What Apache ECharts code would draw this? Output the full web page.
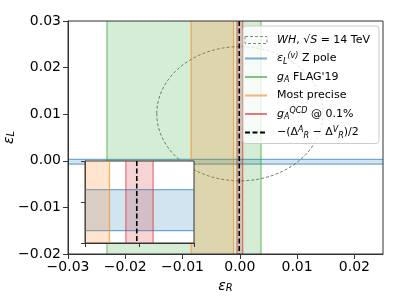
<!DOCTYPE html>
<html><head><meta charset="utf-8">
<script src="https://cdn.jsdelivr.net/npm/echarts@6/dist/echarts.min.js"></script>
<style>html,body{margin:0;padding:0;background:#fff}#c{width:399px;height:299px}</style>
</head><body><div id="c"></div>
<script>
// ---- data ----
const xTicks = [-0.03, -0.02, -0.01, 0.0, 0.01, 0.02];
const yTicks = [-0.02, -0.01, 0.0, 0.01, 0.02, 0.03];
const xRange = [-0.03, 0.025];
const yRange = [-0.02, 0.03];
const insetXRange = [-0.002, 0.002];
const insetYRange = [-0.001, 0.001];
const insetXTicks = [-0.002, 0.0, 0.002];
const insetYTicks = [-0.001, 0.0, 0.001];
const whEllipse = [0.0, 0.0101, 0.0145, 0.0144];   // cx, cy, rx, ry
const zPoleBand = [-0.0007, 0.0003];                // eps_L range
const flagBand = [-0.0232, 0.0037];                 // eps_R range
const mostPreciseBand = [-0.0085, -0.0011];
const qcdBand = [-0.0005, 0.0005];
const deltaLine = [-0.0001];
const legendNames = ['WH, √S = 14 TeV', 'εL(v) Z pole', "gA FLAG'19", 'Most precise', 'gAQCD @ 0.1%', '−(ΔRA − ΔRV)/2'];

// ---- styles ----
const FONT = 'DejaVu Sans';
const C = {
  blue: [31,119,180], green: [44,160,44], orange: [255,127,14], red: [214,39,40]
};
const rgba = (c, a) => `rgba(${c[0]},${c[1]},${c[2]},${a})`;
const FILL_A = 0.2, EDGE_A = 0.6;
const fmt = v => (v < 0 ? '\u2212' : '') + Math.abs(v).toFixed(2);

function vbandRenderer(col) {
  return function (params, api) {
    const cs = params.coordSys;
    const xa = api.coord([api.value(0), 0])[0];
    const xb = api.coord([api.value(1), 0])[0];
    const ls = { stroke: rgba(col, EDGE_A), lineWidth: 1.2 };
    return { type: 'group', children: [
      { type: 'rect', shape: { x: xa, y: cs.y, width: xb - xa, height: cs.height }, style: { fill: rgba(col, FILL_A) } },
      { type: 'line', shape: { x1: xa, y1: cs.y, x2: xa, y2: cs.y + cs.height }, style: ls },
      { type: 'line', shape: { x1: xb, y1: cs.y, x2: xb, y2: cs.y + cs.height }, style: ls }
    ]};
  };
}
function hbandRenderer(col) {
  return function (params, api) {
    const cs = params.coordSys;
    const ya = api.coord([0, api.value(0)])[1];
    const yb = api.coord([0, api.value(1)])[1];
    const ls = { stroke: rgba(col, EDGE_A), lineWidth: 1.2 };
    return { type: 'group', children: [
      { type: 'rect', shape: { x: cs.x, y: Math.min(ya, yb), width: cs.width, height: Math.abs(yb - ya) }, style: { fill: rgba(col, FILL_A) } },
      { type: 'line', shape: { x1: cs.x, y1: ya, x2: cs.x + cs.width, y2: ya }, style: ls },
      { type: 'line', shape: { x1: cs.x, y1: yb, x2: cs.x + cs.width, y2: yb }, style: ls }
    ]};
  };
}
function vlineRenderer(params, api) {
  const cs = params.coordSys;
  const x = api.coord([api.value(0), 0])[0];
  return { type: 'line', shape: { x1: x, y1: cs.y, x2: x, y2: cs.y + cs.height },
    style: { stroke: '#000', lineWidth: 1.6, lineDash: [5, 2.5] } };
}
function ellipseRenderer(params, api) {
  const c = api.coord([api.value(0), api.value(1)]);
  const s = api.size([api.value(2), api.value(3)]);
  return { type: 'ellipse', shape: { cx: c[0], cy: c[1], rx: s[0], ry: s[1] },
    style: { fill: 'none', stroke: '#777', lineWidth: 1, lineDash: [3, 2] } };
}

function custom(name, renderItem, data, xi, z) {
  return { type: 'custom', name, renderItem, data, xAxisIndex: xi, yAxisIndex: xi, z, clip: true,
    silent: true, animation: false };
}

const legendRich = {
  [legendNames[0]]: '{i|WH}, √{i|S} = 14 TeV',
  [legendNames[1]]: '{i|ε}{sub|L}{sup|(v)} Z pole',
  [legendNames[2]]: "{i|g}{sub|A} FLAG'19",
  [legendNames[3]]: 'Most precise',
  [legendNames[4]]: '{i|g}{sub|A}{sup|QCD} @ 0.1%',
  [legendNames[5]]: '−(Δ{sup|A}{sub|R} − Δ{sup|V}{sub|R})/2'
};

const series = [
  custom(legendNames[0], ellipseRenderer, [whEllipse], 0, 2),
  custom('zpole', hbandRenderer(C.blue), [zPoleBand], 0, 2),
  custom('flag', vbandRenderer(C.green), [flagBand], 0, 2),
  custom('mp', vbandRenderer(C.orange), [mostPreciseBand], 0, 2),
  custom('qcd', vbandRenderer(C.red), [qcdBand], 0, 2),
  custom('delta', vlineRenderer, [deltaLine], 0, 2),
  custom('zpole-i', hbandRenderer(C.blue), [zPoleBand], 1, 12),
  custom('mp-i', vbandRenderer(C.orange), [mostPreciseBand], 1, 12),
  custom('qcd-i', vbandRenderer(C.red), [qcdBand], 1, 12),
  custom('delta-i', vlineRenderer, [deltaLine], 1, 12),
];
const legendLines = [
  [legendNames[1], rgba(C.blue, EDGE_A), 'solid'],
  [legendNames[2], rgba(C.green, EDGE_A), 'solid'],
  [legendNames[3], rgba(C.orange, EDGE_A), 'solid'],
  [legendNames[4], rgba(C.red, EDGE_A), 'solid'],
  [legendNames[5], '#000', [5, 2.5]],
];
legendLines.forEach(([n, col, t]) => series.push({
  type: 'line', name: n, data: [], symbol: 'none', xAxisIndex: 0, yAxisIndex: 0,
  itemStyle: { color: col }, lineStyle: { color: col, width: 1.5, type: t }
}));

const axisLbl = { fontFamily: FONT, fontSize: 14, color: '#000' };
const nameRich = {
  i: { fontFamily: FONT, fontStyle: 'italic', fontSize: 14, color: '#000' },
  s: { fontFamily: FONT, fontStyle: 'italic', fontSize: 10, color: '#000', verticalAlign: 'bottom', lineHeight: 8 }
};

const option = {
  animation: false,
  backgroundColor: '#fff',
  grid: [
    { left: 68, right: 16, top: 21, bottom: 45, show: true, borderColor: '#333', borderWidth: 1, backgroundColor: 'transparent', z: 3, outerBoundsMode: 'none', containLabel: false },
    { left: 85, top: 161, width: 109, height: 82, show: true, borderColor: '#333', borderWidth: 1, backgroundColor: '#fff', z: 10, outerBoundsMode: 'none', containLabel: false }
  ],
  xAxis: [
    { type: 'value', gridIndex: 0, min: xRange[0], max: xRange[1], interval: 0.01, z: 3,
      axisLine: { show: true, onZero: false, lineStyle: { color: '#333', width: 1 } },
      axisTick: { show: true, length: 5, customValues: xTicks, lineStyle: { color: '#333' } },
      axisLabel: { ...axisLbl, margin: 6, customValues: xTicks, formatter: fmt },
      splitLine: { show: false },
      name: '{i|ε}{s|R}', nameLocation: 'middle', nameGap: 25, nameMoveOverlap: false,
      nameTextStyle: { fontFamily: FONT, fontSize: 14, color: '#000', rich: nameRich } },
    { type: 'value', gridIndex: 1, min: insetXRange[0], max: insetXRange[1], interval: 0.002, z: 11,
      axisLine: { show: true, onZero: false, lineStyle: { color: '#333', width: 1 } },
      axisTick: { show: true, length: 4, customValues: insetXTicks, lineStyle: { color: '#333' } },
      axisLabel: { show: false }, splitLine: { show: false } }
  ],
  yAxis: [
    { type: 'value', gridIndex: 0, min: yRange[0], max: yRange[1], interval: 0.01, z: 3,
      axisLine: { show: true, onZero: false, lineStyle: { color: '#333', width: 1 } },
      axisTick: { show: true, length: 5, customValues: yTicks, lineStyle: { color: '#333' } },
      axisLabel: { ...axisLbl, margin: 7, customValues: yTicks, formatter: fmt },
      splitLine: { show: false },
      name: '{i|ε}{s|L}', nameLocation: 'middle', nameGap: 52, nameRotate: 90, nameMoveOverlap: false,
      nameTextStyle: { fontFamily: FONT, fontSize: 14, color: '#000', rich: nameRich } },
    { type: 'value', gridIndex: 1, min: insetYRange[0], max: insetYRange[1], interval: 0.001, z: 11,
      axisLine: { show: true, onZero: false, lineStyle: { color: '#333', width: 1 } },
      axisTick: { show: true, length: 4, customValues: insetYTicks, lineStyle: { color: '#333' } },
      axisLabel: { show: false }, splitLine: { show: false } }
  ],
  legend: {
    orient: 'vertical', left: 243, top: 26, z: 5,
    padding: [7, 9, 4, 1], itemGap: 4.5, itemWidth: 22, itemHeight: 7,
    backgroundColor: 'rgba(255,255,255,0.8)', borderColor: '#ccc', borderWidth: 1, borderRadius: 3,
    selectedMode: false,
    textStyle: {
      fontFamily: FONT, fontSize: 11, color: '#000', lineHeight: 14, padding: [0, 0, 0, 5],
      rich: {
        i: { fontFamily: FONT, fontStyle: 'italic', fontSize: 11, color: '#000', lineHeight: 14 },
        sub: { fontFamily: FONT, fontStyle: 'italic', fontSize: 8, color: '#000', verticalAlign: 'bottom', lineHeight: 7 },
        sup: { fontFamily: FONT, fontStyle: 'italic', fontSize: 8, color: '#000', verticalAlign: 'top', lineHeight: 8 }
      }
    },
    formatter: n => legendRich[n] || n,
    data: [
      { name: legendNames[0], icon: 'rect', itemStyle: { color: 'rgba(0,0,0,0)', borderColor: '#888', borderWidth: 1, borderType: [3, 2] } },
      ...legendNames.slice(1).map(n => ({ name: n, itemStyle: { color: 'rgba(0,0,0,0)', borderWidth: 0, opacity: 0 } }))
    ]
  },
  series
};
const chart = echarts.init(document.getElementById('c'));
chart.setOption(option);
</script>
</body></html>
